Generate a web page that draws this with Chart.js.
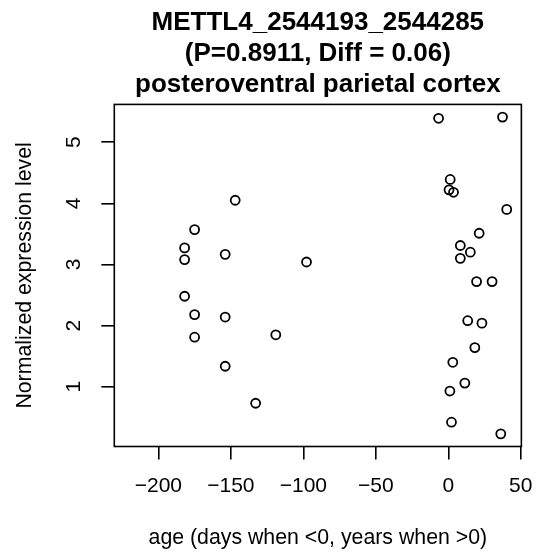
<!DOCTYPE html>
<html>
<head>
<meta charset="utf-8">
<script src="https://cdn.jsdelivr.net/npm/chart.js@4"></script>
<style>
  html, body { margin: 0; padding: 0; background: #fff; }
</style>
</head>
<body>
<canvas id="plot" width="547" height="555"></canvas>
<script>
// sample ages (days when <0, years when >0) and expression levels
const age = [-181.9, -181.9, -181.9, -175, -175, -175, -153.9, -153.9, -153.9, -147, -132.9, -119, -97.8,
             -6.7, 0.5, 1.1, 1.3, 2.2, 3.1, 3.6, 8.3, 8.3, 11.4, 13.4, 15.2, 18.3, 19.5, 21.3, 23.2, 30.2, 36.2, 37.4, 40.3];
const expression = [3.27, 3.08, 2.48, 3.57, 2.18, 1.81, 3.165, 2.14, 1.335, 4.05, 0.73, 1.85, 3.04,
                    5.39, 4.22, 0.93, 4.39, 0.42, 1.40, 4.18, 3.31, 3.10, 1.06, 2.08, 3.20, 1.64, 2.72, 3.51, 2.04, 2.72, 0.23, 5.41, 3.90];
const xTicks = [-200, -150, -100, -50, 0, 50];
const yTicks = [1, 2, 3, 4, 5];
const titleLines = ["METTL4_2544193_2544285", "(P=0.8911, Diff = 0.06)", "posteroventral parietal cortex"];

const FONT = "'Liberation Sans', Arial, Helvetica, sans-serif";

let points = age.map((a, i) => ({ x: a, y: expression[i] }));

// R style box around the plot region
const boxPlugin = {
    id: "box",
    afterDraw(chart) {
        let ctx = chart.ctx, a = chart.chartArea;
        ctx.save();
        ctx.strokeStyle = "#000";
        ctx.lineWidth = 1.6;
        ctx.strokeRect(a.left, a.top, a.right - a.left, a.bottom - a.top);
        ctx.restore();
    }
};

new Chart(document.getElementById("plot"), {
    type: "scatter",
    data: {
        datasets: [{
            data: points,
            pointStyle: "circle",
            pointRadius: 4.5,
            pointHoverRadius: 4.5,
            pointBorderWidth: 1.8,
            pointBorderColor: "#000",
            pointBackgroundColor: "rgba(0,0,0,0)"
        }]
    },
    options: {
        responsive: false,
        animation: false,
        devicePixelRatio: 1,
        layout: { padding: { left: 0, right: 14.3, top: 0, bottom: 0 } },
        plugins: {
            legend: { display: false },
            tooltip: { enabled: false },
            title: {
                display: true,
                fullSize: false,
                text: titleLines,
                color: "#000",
                font: { family: FONT, size: 26, weight: "bold", lineHeight: 1.19 },
                padding: { top: 7, bottom: 4.6 }
            }
        },
        scales: {
            x: {
                type: "linear",
                min: -230.4,
                max: 50.4,
                afterBuildTicks: axis => { axis.ticks = xTicks.map(v => ({ value: v })); },
                afterFit: axis => { axis.height = 108.5; },
                border: { display: false },
                grid: { drawOnChartArea: false, drawTicks: true, tickLength: 13, color: "#000", lineWidth: 1.6 },
                ticks: {
                    autoSkip: false,
                    maxRotation: 0,
                    padding: 14.5,
                    color: "#000",
                    font: { family: FONT, size: 21 },
                    callback: v => v < 0 ? "\u2212" + Math.abs(v) : String(v)
                },
                title: {
                    display: true,
                    text: "age (days when <0, years when >0)",
                    color: "#000",
                    font: { family: FONT, size: 21.3, lineHeight: 1.2 },
                    padding: { top: 0, bottom: 4.4 }
                }
            },
            y: {
                type: "linear",
                min: 0.023,
                max: 5.617,
                afterBuildTicks: axis => { axis.ticks = yTicks.map(v => ({ value: v })); },
                afterFit: axis => { axis.width = 114.3; },
                border: { display: false },
                grid: { drawOnChartArea: false, drawTicks: true, tickLength: 13, color: "#000", lineWidth: 1.6 },
                ticks: {
                    autoSkip: false,
                    minRotation: 90,
                    maxRotation: 90,
                    crossAlign: "center",
                    padding: 21,
                    color: "#000",
                    font: { family: FONT, size: 21 }
                },
                title: {
                    display: true,
                    text: "Normalized expression level",
                    color: "#000",
                    font: { family: FONT, size: 21.3, lineHeight: 1.2 },
                    padding: { top: 12.4, bottom: 0 }
                }
            }
        }
    },
    plugins: [boxPlugin]
});
</script>
</body>
</html>
